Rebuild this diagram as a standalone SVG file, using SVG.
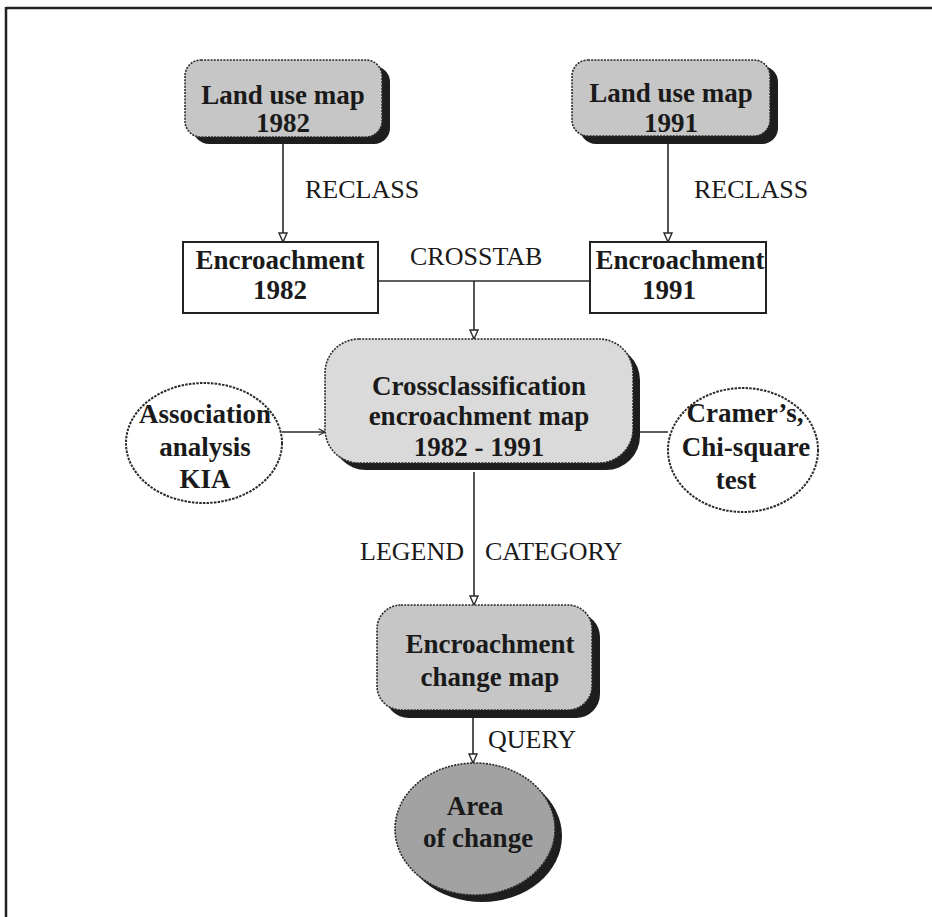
<svg xmlns="http://www.w3.org/2000/svg" width="932" height="917" viewBox="0 0 932 917">
<defs>
<style>
.b{font-family:"Liberation Serif","Times New Roman",serif;font-weight:bold;font-size:27px;fill:#1a1a1a;text-anchor:middle}
.r{font-family:"Liberation Serif","Times New Roman",serif;font-size:26px;fill:#1a1a1a}
.sh{fill:#1e1e1e}
.gb{stroke:#2a2a2a;stroke-width:1.6;stroke-dasharray:2 1.2}
.ln{stroke:#2a2a2a;stroke-width:1.6;fill:none}
.circ{fill:#fff;stroke:#2a2a2a;stroke-width:2;stroke-dasharray:2.5 1.2}
</style>
<marker id="ah" viewBox="0 0 10 10" refX="10" refY="5" markerWidth="10" markerHeight="10" orient="auto" markerUnits="userSpaceOnUse">
<path d="M1,1 L10,5 L1,9 Z" fill="#fff" stroke="#2a2a2a" stroke-width="1.4"/>
</marker>
<marker id="ahs" viewBox="0 0 10 10" refX="10" refY="5" markerWidth="8" markerHeight="8" orient="auto" markerUnits="userSpaceOnUse">
<path d="M2,1 L10,5 L2,9" fill="none" stroke="#2a2a2a" stroke-width="1.4"/>
</marker>
</defs>
<rect width="932" height="917" fill="#fff"/>
<g id="frame">
<line x1="6" y1="8" x2="932" y2="8" stroke="#222" stroke-width="2.5"/>
<line x1="6" y1="7" x2="6" y2="917" stroke="#222" stroke-width="2.5"/>
</g>
<g id="connectors">
<line class="ln" x1="283" y1="140" x2="283" y2="242" marker-end="url(#ah)"/>
<line class="ln" x1="668" y1="140" x2="668" y2="242" marker-end="url(#ah)"/>
<polyline class="ln" points="378,281 590,281"/>
<line class="ln" x1="474" y1="281" x2="474" y2="339" marker-end="url(#ah)"/>
<line class="ln" x1="282" y1="432" x2="325" y2="432" marker-end="url(#ahs)"/>
<line class="ln" x1="668" y1="432" x2="633" y2="432" marker-end="url(#ahs)"/>
<line class="ln" x1="474" y1="472" x2="474" y2="605" marker-end="url(#ah)"/>
<line class="ln" x1="473" y1="717" x2="473" y2="763" marker-end="url(#ah)"/>
<text class="r" x="305" y="198">RECLASS</text>
<text class="r" x="694" y="198">RECLASS</text>
<text class="r" x="410" y="265">CROSSTAB</text>
<text class="r" x="360" y="560">LEGEND</text>
<text class="r" x="485" y="560">CATEGORY</text>
<text class="r" x="488" y="748">QUERY</text>
</g>
<g id="landuse1982">
<rect class="sh" x="193" y="66" width="197" height="78" rx="16"/>
<rect class="gb" x="185" y="60" width="197" height="77" rx="16" fill="#c6c6c6"/>
<text class="b" x="283" y="104">Land use map</text>
<text class="b" x="283" y="132">1982</text>
</g>
<g id="landuse1991">
<rect class="sh" x="580" y="66" width="198" height="78" rx="16"/>
<rect class="gb" x="572" y="60" width="198" height="76" rx="16" fill="#c6c6c6"/>
<text class="b" x="671" y="102">Land use map</text>
<text class="b" x="671" y="132">1991</text>
</g>
<g id="enc1982">
<rect x="183" y="242" width="195" height="71" fill="#fff" stroke="#222" stroke-width="2"/>
<text class="b" x="280" y="269">Encroachment</text>
<text class="b" x="280" y="299">1982</text>
</g>
<g id="enc1991">
<rect x="590" y="242" width="176" height="71" fill="#fff" stroke="#222" stroke-width="2"/>
<text class="b" x="680" y="269">Encroachment</text>
<text class="b" x="669" y="299">1991</text>
</g>
<g id="crossclass">
<rect class="sh" x="332" y="346" width="308" height="124" rx="34"/>
<rect class="gb" x="325" y="339" width="308" height="124" rx="34" fill="#dadada"/>
<text class="b" x="479" y="395">Crossclassification</text>
<text class="b" x="479" y="425">encroachment map</text>
<text class="b" x="479" y="456">1982 - 1991</text>
</g>
<g id="association">
<ellipse class="circ" cx="204" cy="443" rx="78" ry="60"/>
<text class="b" x="205" y="423">Association</text>
<text class="b" x="205" y="456">analysis</text>
<text class="b" x="205" y="488">KIA</text>
</g>
<g id="cramer">
<ellipse class="circ" cx="743" cy="450" rx="75" ry="62"/>
<text class="b" x="745" y="422">Cramer’s,</text>
<text class="b" x="746" y="456">Chi-square</text>
<text class="b" x="736" y="489">test</text>
</g>
<g id="changemap">
<rect class="sh" x="385" y="613" width="215" height="105" rx="24"/>
<rect class="gb" x="377" y="605" width="215" height="105" rx="24" fill="#c6c6c6"/>
<text class="b" x="490" y="653">Encroachment</text>
<text class="b" x="490" y="686">change map</text>
</g>
<g id="areaofchange">
<ellipse class="sh" cx="482" cy="836" rx="80" ry="66"/>
<ellipse class="gb" cx="475" cy="829" rx="80" ry="66" fill="#a2a2a2"/>
<text class="b" x="475" y="815">Area</text>
<text class="b" x="478" y="847">of  change</text>
</g>
</svg>
